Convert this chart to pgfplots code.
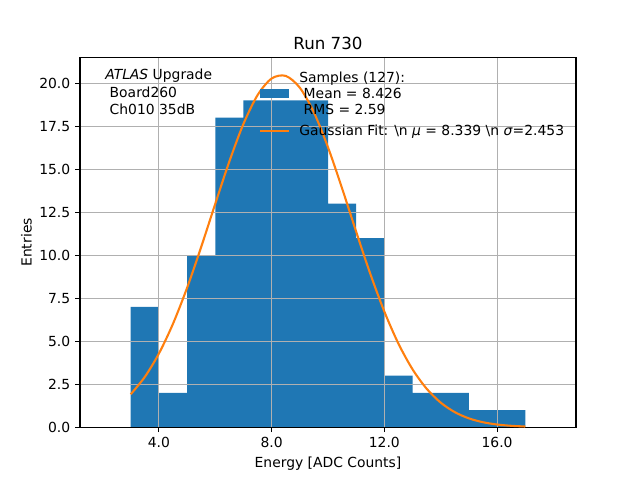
\documentclass[border=0pt]{standalone}
\usepackage{pgfplots}
\pgfplotsset{compat=1.18}
\usepackage{fontspec}
\setmainfont{DejaVu Sans}
\definecolor{c0}{HTML}{1F77B4}
\definecolor{c1}{HTML}{FF7F0E}
\definecolor{gridc}{HTML}{B0B0B0}
\begin{document}
\begin{tikzpicture}
\begin{axis}[
  at={(0pt,0pt)}, anchor=south west,
  scale only axis, width=357.12pt, height=266.112pt,
  xmin=1.2, xmax=18.8, ymin=0, ymax=21.49,
  xtick={4,8,12,16}, ytick={0,2.5,5,7.5,10,12.5,15,17.5,20},
  xticklabel style={/pgf/number format/.cd, fixed, fixed zerofill, precision=1},
  yticklabel style={/pgf/number format/.cd, fixed, fixed zerofill, precision=1},
  /pgf/number format/assume math mode=true,
  scaled ticks=false,
  ticklabel style={font=\fontsize{10}{12}\selectfont},
  grid=major, grid style={color=gridc, line width=0.8pt},
  axis line style={line width=0.8pt},
  every tick/.style={black, line width=0.8pt},
  major tick length=3.5pt, tick align=outside,
  xtick pos=bottom, ytick pos=left,
  set layers,
  title={Run 730},
  title style={font=\fontsize{12}{14}\selectfont, at={(rel axis cs:0.5,1)}, anchor=base, yshift=0pt},
  xlabel={Energy [ADC Counts]}, ylabel={Entries},
  label style={font=\fontsize{10}{12}\selectfont},
  ylabel style={yshift=-1.4pt},
  legend style={draw=none, fill=none, at={(rel axis cs:0.3528,0.977)}, anchor=north west,
    nodes={align=left, font=\fontsize{10}{11.6}\selectfont}, row sep=1.8pt,
    /tikz/every odd column/.append style={column sep=5pt}},
  legend cell align=left,
]
\addplot[ybar interval, fill=c0, draw=none, on layer=axis background,
  legend image code/.code={\fill[c0] (0pt,-2.9pt) rectangle (20.2pt,4.1pt);}]
  coordinates {(3,7)(4,2)(5,10)(6,18)(7,19)(8,19)(9,19)(10,13)(11,11)(12,3)(13,2)(14,2)(15,1)(16,1)(17,0)};
\addlegendentry{Samples (127):\\\hspace{0.32em}Mean = 8.426\\\hspace{0.32em}RMS = 2.59}
\addplot[c1, line width=1.5pt, smooth,
  legend image code/.code={\draw[c1, line width=1.5pt] (0pt,0pt) -- (20.2pt,0pt);}]
  coordinates {
(3.0,1.916)(3.5,2.925)(4.0,4.283)(4.5,6.015)(5.0,8.106)(5.5,10.478)(6.0,12.993)(6.5,15.454)
(7.0,17.636)(7.5,19.307)(8.0,20.275)(8.5,20.426)(9.0,19.740)(9.5,18.301)(10.0,16.276)
(10.5,13.887)(11.0,11.365)(11.5,8.923)(12.0,6.721)(12.5,4.856)(13.0,3.366)(13.5,2.238)
(14.0,1.428)(14.5,0.874)(15.0,0.513)(15.5,0.289)(16.0,0.156)(16.5,0.081)(17.0,0.040)};
\addlegendentry{Gaussian Fit: \textbackslash n \textit{μ} = 8.339 \textbackslash n \textit{σ}=2.453}
\node[anchor=north west, inner sep=0pt, align=left, font=\fontsize{10}{11.8}\selectfont]
  at (rel axis cs:0.0504,0.9700) {\textit{ATLAS} Upgrade\\[1.3pt]\hspace{0.32em}Board260\\\hspace{0.32em}Ch010 35dB};
\end{axis}
\pgfresetboundingbox
\path[use as bounding box] (-57.6pt,-38.016pt) rectangle (403.2pt,307.584pt);
\end{tikzpicture}
\end{document}
